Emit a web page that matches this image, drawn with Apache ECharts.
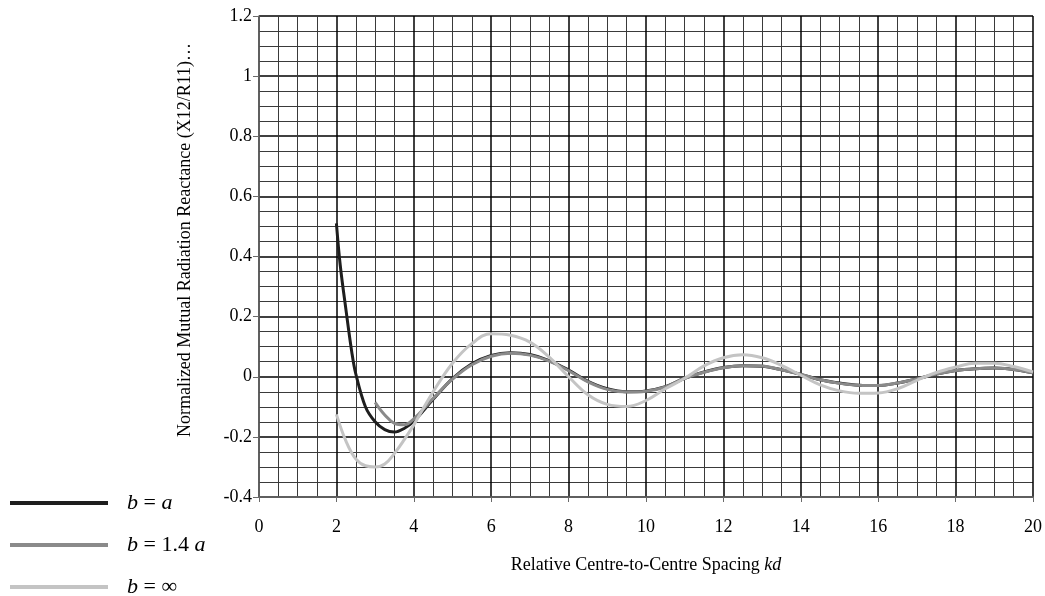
<!DOCTYPE html>
<html>
<head>
<meta charset="utf-8">
<script src="https://cdn.jsdelivr.net/npm/echarts@6/dist/echarts.min.js"></script>
<style>
html,body{margin:0;padding:0;background:#fff;}
#chart{width:1045px;height:596px;}
</style>
</head>
<body>
<div id="chart"></div>
<script>
// ---- Data ----
const seriesNames = ['b = a', 'b = 1.4 a', 'b = ∞'];

const kdA = [2, 2.1, 2.25, 2.4, 2.5, 2.75, 3, 3.25, 3.5, 3.75, 4, 4.5, 5, 5.5, 6, 6.5, 7, 7.5, 8, 8.5, 9, 9.5, 10, 10.5, 11, 11.5, 12, 12.5, 13, 13.5, 14, 14.5, 15, 15.5, 16, 16.5, 17, 17.5, 18, 18.5, 19, 19.5, 20];
const xA  = [0.51, 0.37, 0.22, 0.08, 0.01, -0.10, -0.15, -0.176, -0.184, -0.172, -0.148, -0.075, -0.006, 0.043, 0.071, 0.080, 0.074, 0.054, 0.022, -0.015, -0.040, -0.050, -0.047, -0.033, -0.005, 0.016, 0.031, 0.037, 0.035, 0.023, 0.008, -0.010, -0.021, -0.028, -0.029, -0.021, -0.007, 0.009, 0.021, 0.027, 0.029, 0.024, 0.013];

const kdB = [3, 3.25, 3.5, 3.75, 4, 4.5, 5, 5.5, 6, 6.5, 7, 7.5, 8, 8.5, 9, 9.5, 10, 10.5, 11, 11.5, 12, 12.5, 13, 13.5, 14, 14.5, 15, 15.5, 16, 16.5, 17, 17.5, 18, 18.5, 19, 19.5, 20];
const xB  = [-0.085, -0.127, -0.155, -0.160, -0.140, -0.072, -0.008, 0.040, 0.068, 0.078, 0.072, 0.052, 0.020, -0.017, -0.042, -0.051, -0.048, -0.034, -0.005, 0.015, 0.030, 0.037, 0.036, 0.023, 0.008, -0.010, -0.022, -0.028, -0.029, -0.021, -0.007, 0.009, 0.021, 0.027, 0.029, 0.024, 0.013];

const kdC = [2, 2.25, 2.5, 2.75, 3, 3.25, 3.5, 3.75, 4, 4.5, 5, 5.5, 6, 6.5, 7, 7.5, 8, 8.5, 9, 9.5, 10, 10.5, 11, 11.5, 12, 12.5, 13, 13.5, 14, 14.5, 15, 15.5, 16, 16.5, 17, 17.5, 18, 18.5, 19, 19.5, 20];
const xC  = [-0.125, -0.215, -0.273, -0.296, -0.300, -0.290, -0.255, -0.210, -0.160, -0.050, 0.045, 0.110, 0.143, 0.138, 0.115, 0.065, 0.000, -0.060, -0.092, -0.099, -0.079, -0.040, -0.005, 0.036, 0.063, 0.073, 0.063, 0.038, 0.005, -0.027, -0.047, -0.055, -0.054, -0.040, -0.012, 0.014, 0.032, 0.045, 0.045, 0.034, 0.016];

const xTitle = 'Relative Centre-to-Centre Spacing ';
const xTitleItalic = 'kd';
const yTitle = 'Normalized Mutual Radiation Reactance (X12/R11)…';

const colors = ['#1e1e1e', '#8a8a8a', '#c4c4c4'];
const FONT = '"Liberation Serif", "Times New Roman", serif';

function pairs(xs, ys) { return xs.map((x, i) => [x, ys[i]]); }

const chart = echarts.init(document.getElementById('chart'));
const option = {
  animation: false,
  backgroundColor: '#fff',
  grid: { left: 259, right: 10, top: 16, bottom: 99, containLabel: false },
  legend: {
    data: seriesNames,
    orient: 'vertical',
    left: 10,
    top: 492,
    height: 130,
    padding: 0,
    itemWidth: 98,
    itemHeight: 4,
    itemGap: 20,
    icon: 'rect',
    formatter: function (name) {
      return name.replace(/([ab])/g, '{i|$1}');
    },
    textStyle: {
      fontFamily: FONT,
      fontSize: 22,
      color: '#000',
      padding: [0, 0, 0, 14],
      rich: { i: { fontFamily: FONT, fontSize: 22, fontStyle: 'italic', color: '#000' } }
    }
  },
  xAxis: {
    type: 'value',
    min: 0, max: 20, interval: 2,
    name: xTitle + '{i|' + xTitleItalic + '}',
    nameLocation: 'middle',
    nameGap: 59,
    nameTextStyle: {
      fontFamily: FONT, fontSize: 18, color: '#000',
      rich: { i: { fontFamily: FONT, fontSize: 18, fontStyle: 'italic', color: '#000' } }
    },
    axisLine: { show: true, onZero: false, lineStyle: { color: '#6a6a6a', width: 1.5 } },
    axisTick: { show: true, length: 5, lineStyle: { color: '#6a6a6a' } },
    axisLabel: { fontFamily: FONT, fontSize: 18, color: '#000', margin: 21 },
    splitLine: { show: true, lineStyle: { color: '#000', width: 1.5 } },
    minorTick: { show: false, splitNumber: 4 },
    minorSplitLine: { show: true, lineStyle: { color: '#3a3a3a', width: 1 } }
  },
  yAxis: {
    type: 'value',
    min: -0.4, max: 1.2, interval: 0.2,
    axisLine: { show: true, onZero: false, lineStyle: { color: '#6a6a6a', width: 1.5 } },
    axisTick: { show: true, length: 6, lineStyle: { color: '#6a6a6a' } },
    axisLabel: { fontFamily: FONT, fontSize: 18, color: '#000', margin: 7 },
    splitLine: { show: true, lineStyle: { color: '#000', width: 1.5 } },
    minorTick: { show: false, splitNumber: 4 },
    minorSplitLine: { show: true, lineStyle: { color: '#3a3a3a', width: 1 } }
  },
  graphic: [{
    type: 'text',
    x: 185, y: 240,
    rotation: Math.PI / 2,
    style: {
      text: yTitle,
      fontFamily: FONT, fontSize: 18, fill: '#000',
      align: 'center', verticalAlign: 'middle'
    }
  }],
  series: [
    { name: seriesNames[0], type: 'line', data: pairs(kdA, xA), smooth: 0.35, showSymbol: false,
      lineStyle: { color: colors[0], width: 3 }, itemStyle: { color: colors[0] } },
    { name: seriesNames[1], type: 'line', data: pairs(kdB, xB), smooth: 0.4, showSymbol: false,
      lineStyle: { color: colors[1], width: 3 }, itemStyle: { color: colors[1] } },
    { name: seriesNames[2], type: 'line', data: pairs(kdC, xC), smooth: 0.4, showSymbol: false,
      lineStyle: { color: colors[2], width: 3 }, itemStyle: { color: colors[2] } }
  ]
};
chart.setOption(option);
</script>
</body>
</html>
